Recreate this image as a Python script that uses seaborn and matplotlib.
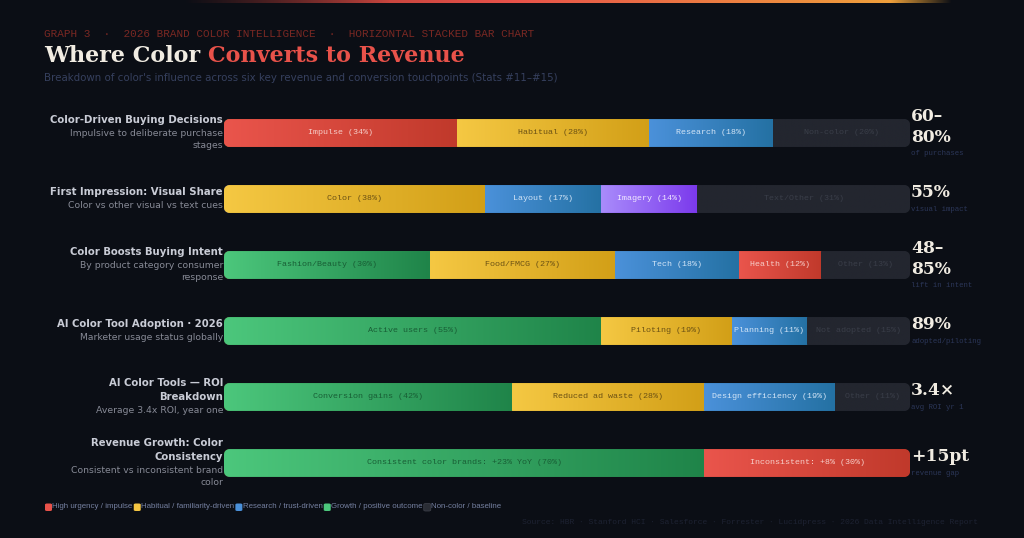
import numpy as np
import pandas as pd
import matplotlib
matplotlib.use("Agg")
import matplotlib.pyplot as plt
import seaborn as sns
from matplotlib.patches import FancyBboxPatch
from matplotlib.colors import to_rgb

# ---------------- data ----------------
row_titles = [
    ["Color-Driven Buying Decisions"],
    ["First Impression: Visual Share"],
    ["Color Boosts Buying Intent"],
    ["AI Color Tool Adoption · 2026"],
    ["AI Color Tools — ROI", "Breakdown"],
    ["Revenue Growth: Color", "Consistency"],
]
row_subtitles = [
    ["Impulsive to deliberate purchase", "stages"],
    ["Color vs other visual vs text cues"],
    ["By product category consumer", "response"],
    ["Marketer usage status globally"],
    ["Average 3.4x ROI, year one"],
    ["Consistent vs inconsistent brand", "color"],
]
seg_names = [
    ["Impulse", "Habitual", "Research", "Non-color"],
    ["Color", "Layout", "Imagery", "Text/Other"],
    ["Fashion/Beauty", "Food/FMCG", "Tech", "Health", "Other"],
    ["Active users", "Piloting", "Planning", "Not adopted"],
    ["Conversion gains", "Reduced ad waste", "Design efficiency", "Other"],
    ["Consistent color brands: +23% YoY", "Inconsistent: +8%"],
]
seg_values = [
    [34, 28, 18, 20],
    [38, 17, 14, 31],
    [30, 27, 18, 12, 13],
    [55, 19, 11, 15],
    [42, 28, 19, 11],
    [70, 30],
]
seg_kinds = [
    ["red", "yellow", "blue", "gray"],
    ["yellow", "blue", "purple", "gray"],
    ["green", "yellow", "blue", "red", "gray"],
    ["green", "yellow", "blue", "gray"],
    ["green", "yellow", "blue", "gray"],
    ["green", "red"],
]
stat_values = [["60–", "80%"], ["55%"], ["48–", "85%"], ["89%"], ["3.4×"], ["+15pt"]]
stat_captions = ["of purchases", "visual impact", "lift in intent",
                 "adopted/piloting", "avg ROI yr 1", "revenue gap"]
legend_labels = ["High urgency / impulse", "Habitual / familiarity-driven",
                 "Research / trust-driven", "Growth / positive outcome",
                 "Non-color / baseline"]
legend_kinds = ["red", "yellow", "blue", "green", "gray"]

# ---------------- styles ----------------
BG = "#0b0e15"
grad = {
    "red": ("#ea554c", "#c0392b"),
    "yellow": ("#f5c843", "#d29f17"),
    "blue": ("#4b91da", "#2471a3"),
    "purple": ("#a98cfb", "#7b39ec"),
    "green": ("#4cc77c", "#1f8449"),
    "gray": ("#23262f", "#23262f"),
}
txtcol = {
    "red": "#f6cdc8", "yellow": "#6b5114", "blue": "#d3e5f7",
    "purple": "#f1e9ff", "green": "#185e35", "gray": "#3a3e49",
}
legcol = {"red": "#e8524a", "yellow": "#f4c542", "blue": "#4a90d9",
          "green": "#4cc77c", "gray": "#2a2d35"}

sns.set_theme(style="dark")
plt.rcParams["font.family"] = ["DejaVu Sans"]

W, H = 1024, 538
fig = plt.figure(figsize=(W / 100, H / 100), dpi=100, facecolor=BG)


def P(x, y):
    return x / W, 1 - y / H


# top accent line
lax = fig.add_axes([0, 1 - 3 / H, 1, 3 / H])
lax.set_axis_off()
xs = np.linspace(0, 1, 1024)
c1, c2, c3 = np.array(to_rgb("#6a1f1c")), np.array(to_rgb("#e8524a")), np.array(to_rgb("#f0a63a"))
cols = np.where(xs[:, None] < 0.5,
                c1 + (c2 - c1) * np.clip(xs[:, None] / 0.5, 0, 1),
                c2 + (c3 - c2) * np.clip((xs[:, None] - 0.5) / 0.4, 0, 1))
alpha = np.clip((xs - 0.18) / 0.2, 0, 1) * np.clip((0.93 - xs) / 0.06, 0, 1)
img = np.concatenate([cols, alpha[:, None]], axis=1)[None, :, :]
lax.imshow(img, aspect="auto", extent=[0, 1, 0, 1])

# main axes (bars)
ax = fig.add_axes([224 / W, 1 - 496 / H, 686 / W, 396 / H])
ax.set_facecolor("none")

row_keys = [" ".join(t) for t in row_titles]
records = []
for r, (vals, kinds, names) in enumerate(zip(seg_values, seg_kinds, seg_names)):
    ends = np.cumsum(vals)
    for j, (v, k, e, n) in enumerate(zip(vals, kinds, ends, names)):
        records.append(dict(row=row_keys[r], ri=r, seg=j, value=v, end=e,
                            start=e - v, kind=k, name=n))
df = pd.DataFrame(records)

BW = 0.42
flat_pal = {k: grad[k][1] for k in grad}
for j in sorted(df["seg"].unique(), reverse=True):
    sub = df[df["seg"] == j]
    sns.barplot(data=sub, x="end", y="row", order=row_keys, hue="kind",
                palette=flat_pal, dodge=False, legend=False, width=BW,
                saturation=1, linewidth=0, ax=ax, orient="h")

ax.set_xlim(0, 100)
ax.set_ylim(5.5, -0.5)

# rounded clip shapes for each row
clips = []
for r in range(len(row_keys)):
    cp = FancyBboxPatch((0, r - BW / 2), 100, BW,
                        boxstyle="round,pad=0,rounding_size=0.9",
                        mutation_aspect=0.104, transform=ax.transData,
                        facecolor="none", edgecolor="none")
    clips.append(cp)

for p in ax.patches:
    rc = int(round(p.get_y() + p.get_height() / 2))
    p.set_clip_path(clips[rc])

# gradient fill + labels per segment
for rec in records:
    r = rec["ri"]
    a, b = np.array(to_rgb(grad[rec["kind"]][0])), np.array(to_rgb(grad[rec["kind"]][1]))
    t = np.linspace(0, 1, 256)[:, None]
    g = (a + (b - a) * t)[None, :, :]
    im = ax.imshow(g, extent=[rec["start"], rec["end"], r + BW / 2, r - BW / 2],
                   aspect="auto", interpolation="bilinear", zorder=3)
    im.set_clip_path(clips[r])
    ax.text((rec["start"] + rec["end"]) / 2, r,
            f'{rec["name"]} ({rec["value"]}%)', ha="center", va="center",
            family="Liberation Mono", fontsize=6, color=txtcol[rec["kind"]], zorder=5)

ax.set_xlim(0, 100)
ax.set_ylim(5.5, -0.5)
ax.set_axis_off()

# ---------------- header text ----------------
fig.text(*P(44, 34), "GRAPH 3  ·  2026 BRAND COLOR INTELLIGENCE  ·  HORIZONTAL STACKED BAR CHART",
         family="Liberation Mono", fontsize=7.9, color="#7a2823", va="center", ha="left")
t1 = fig.text(*P(44, 56), "Where Color ", family="DejaVu Serif", fontweight="bold",
              fontsize=16, color="#f1ece2", va="center", ha="left")
fig.canvas.draw()
rend = fig.canvas.get_renderer()
bb = t1.get_window_extent(rend)
fig.text(bb.x1 / W, 1 - 56 / H, "Converts to Revenue", family="DejaVu Serif",
         fontweight="bold", fontsize=16, color="#e8524a", va="center", ha="left")
fig.text(*P(44, 78), "Breakdown of color's influence across six key revenue and conversion touchpoints (Stats #11–#15)",
         fontsize=7.35, color="#36405e", va="center", ha="left")

# ---------------- row labels & stats ----------------
for r in range(len(row_keys)):
    c = 133 + 66 * r
    lines = [(s, "t") for s in row_titles[r]] + [(s, "s") for s in row_subtitles[r]]
    offs = [0]
    for i in range(1, len(lines)):
        prev, cur = lines[i - 1][1], lines[i][1]
        offs.append(offs[-1] + (13 if prev == cur == "t" else 14 if prev != cur else 12))
    y0 = c - offs[-1] / 2
    for (s, k), o in zip(lines, offs):
        if k == "t":
            fig.text(*P(223, y0 + o), s, fontsize=7.3, fontweight="bold", color="#c9ccd6",
                     ha="right", va="center")
        else:
            fig.text(*P(223, y0 + o), s, fontsize=6.7, color="#878a96",
                     ha="right", va="center")
    # stats
    sl = stat_values[r]
    offs = [21 * i for i in range(len(sl))] + [21 * (len(sl) - 1) + 16.5]
    y0 = c + 2 - offs[-1] / 2
    for s, o in zip(sl, offs[:-1]):
        fig.text(*P(911, y0 + o), s, family="DejaVu Serif", fontweight="bold",
                 fontsize=12.3, color="#f1ece2", ha="left", va="center")
    fig.text(*P(911, y0 + offs[-1]), stat_captions[r], family="Liberation Mono",
             fontsize=5.3, color="#2b3658", ha="left", va="center")

# ---------------- legend ----------------
x = 44
for lab, k in zip(legend_labels, legend_kinds):
    sq = FancyBboxPatch(((x + 1) / W, 1 - 511 / H), 7 / W, 7.5 / H,
                        boxstyle="round,pad=0,rounding_size=0.002",
                        transform=fig.transFigure, facecolor=legcol[k],
                        edgecolor="#3a3d46" if k == "gray" else "none", lw=0.6)
    fig.patches.append(sq)
    tt = fig.text((x + 8.5) / W, 1 - 507 / H, lab, family="Liberation Sans",
                  fontsize=5.7, color="#7580a0", ha="left", va="center")
    bb = tt.get_window_extent(rend)
    x = bb.x1

fig.text(*P(978, 523), "Source: HBR · Stanford HCI · Salesforce · Forrester · Lucidpress · 2026 Data Intelligence Report",
         family="Liberation Mono", fontsize=5.8, color="#1d2232", ha="right", va="center")

fig.savefig("out.png", dpi=100, facecolor=BG)
